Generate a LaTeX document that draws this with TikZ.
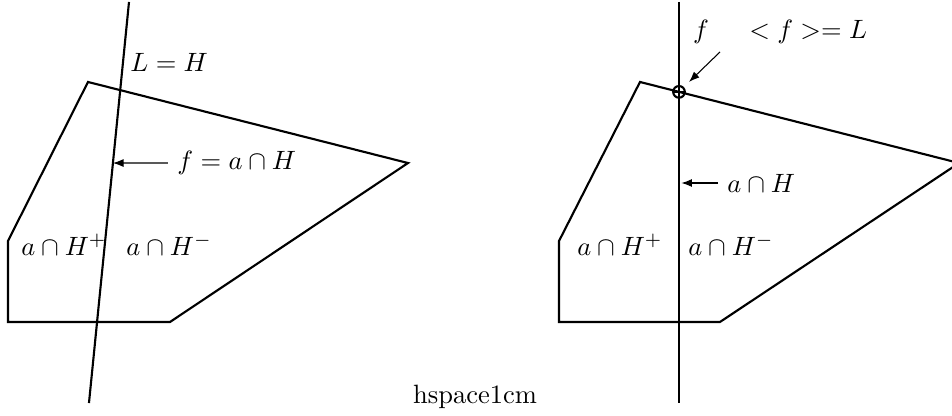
\documentclass[tikz,border=0pt]{standalone}
\usepackage{amsmath,amssymb}
\usetikzlibrary{arrows.meta,positioning}

\begin{document}
\begin{tikzpicture}[
  edge/.style={thick,line join=miter},
  hline/.style={thick},
  ar/.style={-{Latex[length=4pt,width=3pt]}},
  lbl/.style={inner sep=0.333em}]

\useasboundingbox (0,0) rectangle (12.626,5.517);

% left: tilted hyperplane
\coordinate (a1) at (1.167,4.430);
\coordinate (a2) at (5.411,3.355);
\coordinate (a3) at (2.255,1.247);
\coordinate (a4) at (0.106,1.247);
\coordinate (a5) at (0.106,2.321);
\draw[edge] (a1) -- (a2) -- (a3) -- (a4) -- (a5) -- cycle;

\coordinate (lt) at (1.711,5.491);
\coordinate (lb) at (1.180,0.172);
\draw[hline] (lt) -- (lb);

\node[lbl,anchor=west] (lh) at (1.605,4.695) {$L=H$};
\node[lbl,anchor=west] (fa) at (2.228,3.355) {$f=a\cap H$};
\coordinate (fl) at (intersection of lt--lb and fa.west--{[xshift=-1cm]fa.west});
\draw[ar] (fa.west) -- (fl);
\node[lbl,anchor=west] (lp) at (0.159,2.268) {$a\cap H^{+}$};
\node[lbl,anchor=west] (lm) at (1.552,2.268) {$a\cap H^{-}$};

% right: vertical hyperplane through a vertex
\coordinate (b1) at (8.488,4.430);
\coordinate (b2) at (12.719,3.355);
\coordinate (b3) at (9.549,1.247);
\coordinate (b4) at (7.414,1.247);
\coordinate (b5) at (7.414,2.321);
\draw[edge] (b1) -- (b2) -- (b3) -- (b4) -- (b5) -- cycle;

\coordinate (rt) at (9.005,5.491);
\coordinate (rb) at (9.005,0.172);
\draw[hline] (rt) -- (rb);

\coordinate (fp) at (intersection of rt--rb and b1--b2);
\draw[thick] (fp) circle (2.2pt);
\draw[semithick] ([xshift=-2.2pt]fp) -- ([xshift=2.2pt]fp)
                 ([yshift=-2.2pt]fp) -- ([yshift=2.2pt]fp);

\node[lbl,anchor=base] (f) at (9.297,5.013) {$f$};
\node[lbl,anchor=base west] (fl2) at (9.814,5.013) {$<f>=L$};
\coordinate (ft) at (9.549,4.828);
\draw[ar] (ft) -- (9.138,4.430);

\node[lbl,anchor=west] (ah) at (9.523,3.090) {$a\cap H$};
\draw[ar] (ah.west) -- ([xshift=0.9pt]rt |- ah.west);
\node[lbl,anchor=west] (rp) at (7.533,2.268) {$a\cap H^{+}$};
\node[lbl,anchor=west] (rm) at (9.005,2.268) {$a\cap H^{-}$};

\node (hs) at (6.30,0.252) {hspace1cm};
\end{tikzpicture}
\end{document}
